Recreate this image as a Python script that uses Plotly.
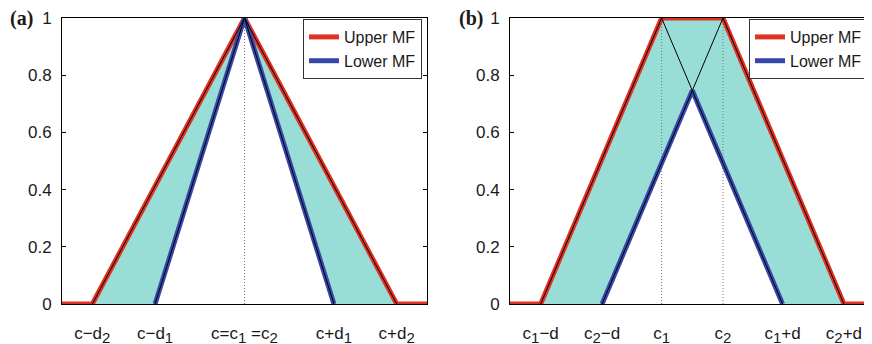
import plotly.graph_objects as go

# ---------------- data ----------------
# panel (a)
c_a = 5.0
d1_a = 2.45
d2_a = 4.17
# panel (b)
c1_b = 4.2
c2_b = 5.9
d_b = 3.35

y_ticks = [0, 0.2, 0.4, 0.6, 0.8, 1]
y_ticktext = ["0", "0.2", "0.4", "0.6", "0.8", "1"]

def sub(s):
    return "<sub><span style='font-size:15px'>" + s + "</span></sub>"

a_ticktext = ["c\u2212d" + sub("2"), "c\u2212d" + sub("1"), "c=c" + sub("1") + " =c" + sub("2"),
              "c+d" + sub("1"), "c+d" + sub("2")]
b_ticktext = ["c" + sub("1") + "\u2212d", "c" + sub("2") + "\u2212d", "c" + sub("1"), "c" + sub("2"),
              "c" + sub("1") + "+d", "c" + sub("2") + "+d"]

x_range = [0, 10]

RED = "rgb(224,50,36)"
BLUE = "rgb(56,72,170)"
CYAN = "rgb(152,222,214)"
DOT = "rgb(120,120,120)"
FONT = "Liberation Sans, Arial, sans-serif"
TXT = "#1a1a1a"

# page has an 8px body margin: figure is 864x336 placed at (8,8)
W, H, OFF = 864, 336, 8
def px(x):
    return (x - OFF) / W
def py(y):
    return (H - (y - OFF)) / H

fig = go.Figure()

# ---------- panel (a) ----------
a_ticks = [c_a - d2_a, c_a - d1_a, c_a, c_a + d1_a, c_a + d2_a]
fig.add_trace(go.Scatter(
    x=[c_a - d2_a, c_a, c_a + d2_a, c_a + d1_a, c_a, c_a - d1_a],
    y=[0, 1, 0, 0, 1, 0], fill="toself", fillcolor=CYAN, mode="lines",
    line=dict(width=0), showlegend=False, hoverinfo="skip", xaxis="x", yaxis="y"))
fig.add_trace(go.Scatter(x=[c_a, c_a], y=[0, 1], mode="lines",
    line=dict(color=DOT, width=1, dash="1px,2px"),
    showlegend=False, xaxis="x", yaxis="y"))
fig.add_trace(go.Scatter(
    x=[x_range[0], c_a - d2_a, c_a, c_a + d2_a, x_range[1]], y=[0, 0, 1, 0, 0],
    mode="lines", line=dict(color=RED, width=5), name="Upper MF",
    legend="legend", xaxis="x", yaxis="y"))
fig.add_trace(go.Scatter(
    x=[c_a - d1_a, c_a, c_a + d1_a], y=[0, 1, 0],
    mode="lines", line=dict(color=BLUE, width=5), name="Lower MF",
    legend="legend", xaxis="x", yaxis="y"))
for dd in (d2_a, d1_a):
    fig.add_trace(go.Scatter(x=[c_a - dd, c_a, c_a + dd], y=[0, 1, 0], mode="lines",
        line=dict(color="black", width=1), showlegend=False, xaxis="x", yaxis="y"))

# ---------- panel (b) ----------
b_ticks = [c1_b - d_b, c2_b - d_b, c1_b, c2_b, c1_b + d_b, c2_b + d_b]
xm = (c1_b + c2_b) / 2
ym = 1 - (xm - c1_b) / d_b
fig.add_trace(go.Scatter(
    x=[c1_b - d_b, c1_b, c2_b, c2_b + d_b, c1_b + d_b, xm, c2_b - d_b],
    y=[0, 1, 1, 0, 0, ym, 0], fill="toself", fillcolor=CYAN, mode="lines",
    line=dict(width=0), showlegend=False, hoverinfo="skip", xaxis="x2", yaxis="y2"))
for cc in (c1_b, c2_b):
    fig.add_trace(go.Scatter(x=[cc, cc], y=[0, 1], mode="lines",
        line=dict(color=DOT, width=1, dash="1px,2px"),
        showlegend=False, xaxis="x2", yaxis="y2"))
fig.add_trace(go.Scatter(
    x=[x_range[0], c1_b - d_b, c1_b, c2_b, c2_b + d_b, x_range[1]], y=[0, 0, 1, 1, 0, 0],
    mode="lines", line=dict(color=RED, width=5), name="Upper MF",
    legend="legend2", xaxis="x2", yaxis="y2"))
fig.add_trace(go.Scatter(
    x=[c2_b - d_b, xm, c1_b + d_b], y=[0, ym, 0],
    mode="lines", line=dict(color=BLUE, width=5), name="Lower MF",
    legend="legend2", xaxis="x2", yaxis="y2"))
for cc in (c1_b, c2_b):
    fig.add_trace(go.Scatter(x=[cc - d_b, cc, cc + d_b], y=[0, 1, 0], mode="lines",
        line=dict(color="black", width=1), showlegend=False, xaxis="x2", yaxis="y2"))

# ---------- layout ----------
yd = [py(304), py(18)]
common_y = dict(range=[0, 1], tickvals=y_ticks, ticktext=y_ticktext, ticks="inside",
                ticklen=4, tickcolor="black", showline=True, linecolor="black", linewidth=1,
                mirror="ticks", showgrid=False, zeroline=False, domain=yd, automargin=False,
                tickfont=dict(family=FONT, size=17, color=TXT), ticklabelstandoff=6)
common_x = dict(range=x_range, ticks="", showline=True, linecolor="black", linewidth=1,
                mirror=True, showgrid=False, zeroline=False, automargin=False,
                tickfont=dict(family=FONT, size=17, color=TXT), ticklabelstandoff=14)

legend_common = dict(bgcolor="white", bordercolor="#333", borderwidth=1,
                     font=dict(family=FONT, size=16, color=TXT),
                     xanchor="right", yanchor="top", itemwidth=30, tracegroupgap=0)

fig.update_layout(
    width=W, height=H,
    margin=dict(l=0, r=0, t=0, b=0),
    paper_bgcolor="white", plot_bgcolor="white",
    xaxis=dict(common_x, domain=[px(62), px(427)], tickvals=a_ticks, ticktext=a_ticktext),
    yaxis=dict(common_y, anchor="x"),
    xaxis2=dict(common_x, domain=[px(510), px(871)], tickvals=b_ticks, ticktext=b_ticktext, anchor="y2"),
    yaxis2=dict(common_y, anchor="x2"),
    legend=dict(legend_common, x=px(422), y=py(19)),
    legend2=dict(legend_common, x=px(868), y=py(19)),
    annotations=[
        dict(text="<b>(a)</b>", x=px(8), y=py(18), xref="paper", yref="paper",
             xanchor="left", yanchor="middle", showarrow=False,
             font=dict(family="Liberation Serif, Times New Roman, serif", size=20, color=TXT)),
        dict(text="<b>(b)</b>", x=px(457), y=py(18), xref="paper", yref="paper",
             xanchor="left", yanchor="middle", showarrow=False,
             font=dict(family="Liberation Serif, Times New Roman, serif", size=20, color=TXT)),
    ],
)

fig.write_html("out.html")
